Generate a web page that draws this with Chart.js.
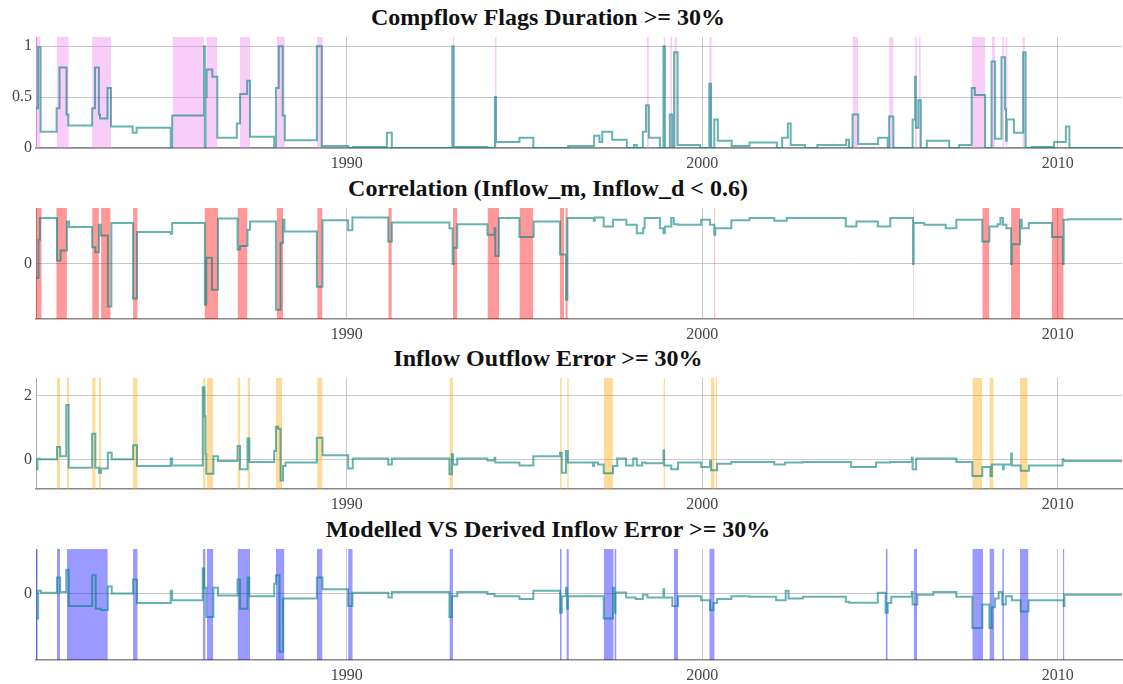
<!DOCTYPE html>
<html>
<head>
<meta charset="utf-8">
<title>Flag durations</title>
<script src="https://cdn.jsdelivr.net/npm/chart.js@4.4.1/dist/chart.umd.min.js"></script>
<style>
    body { margin: 0; background: #fff; width: 1123px; height: 684px; position: relative; overflow: hidden; }
    .panel-title {
        position: absolute; left: 548px; transform: translateX(-50%);
        font: bold 24px "Liberation Serif", "Times New Roman", serif; line-height: 24px;
        color: #111; white-space: nowrap;
    }
    .panel { position: absolute; left: 0; width: 1123px; height: 137px; }
</style>
</head>
<body>
<div class="panel-title" style="top:5px">Compflow Flags Duration &gt;= 30%</div>
<div class="panel" style="top:37px"><canvas id="compflow-chart" width="1123" height="137"></canvas></div>

<div class="panel-title" style="top:176px">Correlation (Inflow_m, Inflow_d &lt; 0.6)</div>
<div class="panel" style="top:208px"><canvas id="correlation-chart" width="1123" height="137"></canvas></div>

<div class="panel-title" style="top:346px">Inflow Outflow Error &gt;= 30%</div>
<div class="panel" style="top:378px"><canvas id="inout-chart" width="1123" height="137"></canvas></div>

<div class="panel-title" style="top:517px">Modelled VS Derived Inflow Error &gt;= 30%</div>
<div class="panel" style="top:549px"><canvas id="modelled-chart" width="1123" height="137"></canvas></div>

<script>
// shared time axis (decimal years)
const xRange = [1981.26, 2011.81];
const xTicks = [1990, 2000, 2010];

// Compflow flag duration
const compflowDates = [1981.26, 1981.32, 1981.39, 1981.84, 1981.92, 1982.12, 1982.17, 1982.84, 1982.92, 1983.03,
    1983.06, 1983.27, 1983.37, 1983.98, 1984.09, 1985.05, 1985.09, 1985.99, 1986.01, 1986.03,
    1986.06, 1986.22, 1986.36, 1986.91, 1987.00, 1987.20, 1987.28, 1987.96, 1988.01, 1988.09,
    1988.20, 1988.26, 1989.16, 1989.30, 1990.05, 1990.17, 1991.13, 1991.27, 1992.97, 1993.01,
    1993.96, 1994.17, 1994.20, 1994.86, 1995.25, 1996.23, 1996.96, 1997.11, 1997.19, 1997.47,
    1997.88, 1998.08, 1998.16, 1998.33, 1998.42, 1998.50, 1998.81, 1998.91, 1998.95, 1999.09,
    1999.16, 1999.21, 1999.31, 1999.94, 2000.20, 2000.25, 2000.34, 2000.44, 2000.83, 2001.33,
    2002.10, 2002.25, 2002.41, 2002.49, 2002.89, 2003.24, 2004.05, 2004.13, 2004.23, 2004.39,
    2004.95, 2005.22, 2005.26, 2005.38, 2005.92, 2005.99, 2006.01, 2006.08, 2006.15, 2006.32,
    2006.95, 2007.23, 2007.58, 2007.67, 2007.96, 2008.14, 2008.24, 2008.42, 2008.52, 2008.55,
    2008.57, 2008.77, 2009.03, 2009.10, 2009.27, 2009.90, 2010.23, 2010.33, 2011.81];
const compflowValues = [0.39, 0.99, 0.16, 0.39, 0.79, 0.33, 0.22, 0.39, 0.79, 0.33,
    0.29, 0.59, 0.21, 0.15, 0.20, 0, 0.32, 1.0, 0, 0.5,
    0.77, 0.70, 0.10, 0.24, 0.53, 0.66, 0.11, 0, 0.59, 1.0,
    0.32, 0.075, 1.0, 0.02, 0, 0.01, 0.15, 0, 1.0, 0.01,
    0, 0.5, 0.06, 0.10, 0, 0.02, 0.12, 0.06, 0.16, 0.08,
    0, 0.03, 0, 0.16, 0.42, 0.10, 0, 1.0, 0, 0.33,
    0, 0.94, 0.03, 0, 0.63, 0, 0.28, 0.07, 0.02, 0.055,
    0, 0.10, 0.24, 0.03, 0, 0.03, 0.08, 0, 0.33, 0.04,
    0.10, 0, 0.31, 0, 0.28, 0.70, 0.20, 0.47, 0, 0.07,
    0, 0.03, 0.59, 0.52, 0, 0.85, 0.09, 0.89, 0.38, 0.07,
    0.28, 0.15, 0.94, 0, 0.01, 0.06, 0.21, 0, 0];
const compflowFlagStarts = [1981.26, 1981.84, 1982.84, 1985.10, 1986.05, 1987.00, 1988.03, 1989.16, 1992.98, 1994.17,
    1998.44, 1998.91, 1999.10, 1999.22, 2000.20, 2004.23, 2005.26, 2005.99, 2006.10, 2007.58,
    2008.14, 2008.44, 2008.53, 2009.01];
const compflowFlagEnds = [1981.39, 1982.18, 1983.37, 1985.99, 1986.36, 1987.28, 1988.26, 1989.33, 1993.02, 1994.22,
    1998.50, 1998.96, 1999.16, 1999.29, 2000.27, 2004.39, 2005.38, 2006.04, 2006.15, 2007.96,
    2008.24, 2008.50, 2008.59, 2009.08];
const compflowTicks = [0, 0.5, 1];

// Correlation between modelled and derived inflow
const correlationDates = [1981.26, 1981.33, 1981.37, 1981.85, 1981.95, 1982.13, 1982.19, 1982.84, 1982.93, 1983.03,
    1983.08, 1983.28, 1983.38, 1983.99, 1984.10, 1985.05, 1985.09, 1986.01, 1986.05, 1986.21,
    1986.38, 1986.93, 1987.00, 1987.21, 1987.28, 1988.01, 1988.14, 1988.21, 1988.25, 1989.16,
    1989.32, 1990.04, 1990.16, 1991.17, 1991.27, 1992.89, 1992.98, 1993.00, 1993.11, 1993.96,
    1994.16, 1994.18, 1994.28, 1994.86, 1995.26, 1996.00, 1996.17, 1996.21, 1996.95, 1996.98,
    1997.23, 1997.49, 1997.87, 1998.16, 1998.34, 1998.38, 1998.81, 1998.91, 1998.95, 1999.13,
    1999.20, 1999.32, 1999.97, 2000.22, 2000.34, 2000.37, 2000.82, 2001.33, 2002.03, 2002.38,
    2004.04, 2004.34, 2004.94, 2005.29, 2005.93, 2005.95, 2006.25, 2006.85, 2007.15, 2007.88,
    2008.08, 2008.31, 2008.39, 2008.46, 2008.56, 2008.69, 2008.71, 2008.94, 2008.99, 2009.19,
    2009.84, 2010.15, 2010.17, 2010.30, 2011.81];
const correlationValues = [-0.25, 0.43, 0.82, 0.06, 0.24, 0.76, 0.66, 0.30, 0.21, 0.70,
    0.51, -0.76, 0.73, -0.62, 0.57, 0.54, 0.73, -0.73, 0.11, -0.46,
    0.81, 0.26, 0.32, 0.61, 0.76, -0.82, 0.38, 0.79, 0.58, -0.41,
    0.78, 0.60, 0.83, 0.40, 0.74, 0.64, 0.0, 0.29, 0.71, 0.52,
    0.64, 0.14, 0.82, 0.48, 0.76, 0.17, -0.64, 0.82, 0.77, 0.83,
    0.67, 0.79, 0.70, 0.55, 0.64, 0.82, 0.64, 0.55, 0.67, 0.82,
    0.71, 0.70, 0.79, 0.70, 0.52, 0.64, 0.78, 0.82, 0.77, 0.82,
    0.67, 0.76, 0.67, 0.82, 0.0, 0.73, 0.70, 0.64, 0.79, 0.40,
    0.67, 0.71, 0.82, 0.70, 0.64, 0.0, 0.35, 0.79, 0.64, 0.73,
    0.48, 0.0, 0.79, 0.80, 0.80];
const correlationFlagStarts = [1981.26, 1981.83, 1982.84, 1983.09, 1983.99, 1986.00, 1986.93, 1988.03, 1989.17, 1991.17,
    1992.99, 1993.96, 1994.86, 1996.00, 1996.15, 2000.34, 2005.93, 2007.88, 2008.69, 2009.83];
const correlationFlagEnds = [1981.42, 1982.13, 1983.03, 1983.36, 1984.12, 1986.38, 1987.21, 1988.21, 1989.32, 1991.27,
    1993.11, 1994.29, 1995.25, 1996.12, 1996.22, 2000.37, 2005.95, 2008.08, 2008.94, 2010.17];
const correlationTicks = [0];

// Inflow / outflow balance error
const inoutDates = [1981.26, 1981.30, 1981.37, 1981.85, 1981.94, 1982.11, 1982.18, 1982.84, 1982.93, 1983.03,
    1983.09, 1983.28, 1983.39, 1983.99, 1984.10, 1985.05, 1985.09, 1985.95, 1986.00, 1986.03,
    1986.05, 1986.25, 1986.38, 1986.93, 1987.00, 1987.21, 1987.26, 1987.96, 1988.01, 1988.07,
    1988.14, 1988.21, 1988.28, 1989.16, 1989.32, 1990.04, 1990.17, 1991.17, 1991.27, 1992.89,
    1992.96, 1992.99, 1993.11, 1993.96, 1994.16, 1994.18, 1994.86, 1995.25, 1996.00, 1996.05,
    1996.17, 1996.22, 1996.93, 1996.96, 1997.07, 1997.23, 1997.49, 1997.61, 1997.86, 1998.06,
    1998.16, 1998.31, 1998.41, 1998.91, 1998.93, 1999.13, 1999.32, 1999.97, 2000.22, 2000.25,
    2000.42, 2000.82, 2002.03, 2002.33, 2002.83, 2004.19, 2004.89, 2005.29, 2005.90, 2005.92,
    2006.02, 2007.15, 2007.60, 2007.88, 2008.11, 2008.15, 2008.46, 2008.48, 2008.69, 2008.71,
    2008.96, 2009.19, 2010.14, 2010.16, 2011.81];
const inoutValues = [-0.31, 0.02, 0.0, 0.39, 0.10, 1.70, -0.26, 0.80, -0.26, -0.42,
    -0.29, 0.21, 0.0, 0.44, -0.21, 0.03, -0.19, 2.26, 1.35, 0.16,
    -0.45, 0.10, -0.05, 0.42, -0.31, 0.65, -0.08, 0.26, 1.02, 0.96,
    -0.66, -0.21, -0.10, 0.68, 0.13, -0.29, 0.03, -0.16, 0.03, -0.47,
    0.16, -0.16, 0.03, -0.04, 0.05, -0.10, -0.19, 0.10, 0.21, -0.42,
    0.26, -0.10, -0.21, -0.10, -0.16, -0.44, -0.21, 0.03, -0.19, 0.03,
    -0.19, -0.10, -0.12, 0.28, -0.19, -0.31, -0.10, -0.24, -0.05, -0.34,
    -0.14, -0.08, -0.16, -0.10, -0.08, -0.24, -0.10, -0.08, 0.05, -0.31,
    0.03, -0.08, -0.52, -0.24, -0.52, -0.16, -0.31, -0.16, 0.18, -0.19,
    -0.36, -0.19, 0.0, -0.05, -0.05];
const inoutFlagStarts = [1981.85, 1982.13, 1982.84, 1983.03, 1983.99, 1985.95, 1986.07, 1986.93, 1987.21, 1988.01,
    1989.17, 1992.89, 1996.00, 1996.20, 1997.23, 1998.91, 2000.24, 2000.38, 2007.60, 2008.08, 2008.94];
const inoutFlagEnds = [1981.94, 1982.19, 1982.94, 1983.09, 1984.12, 1986.03, 1986.25, 1987.01, 1987.28, 1988.18,
    1989.32, 1992.99, 1996.05, 1996.25, 1997.49, 1998.96, 2000.35, 2000.42, 2007.88, 2008.20, 2009.16];
const inoutTicks = [0, 2];

// Modelled vs derived inflow error
const modelledDates = [1981.26, 1981.32, 1981.40, 1981.85, 1981.94, 1982.11, 1982.18, 1982.84, 1982.94, 1983.09,
    1983.28, 1983.39, 1983.99, 1984.10, 1985.05, 1985.09, 1985.95, 1985.99, 1986.05, 1986.25,
    1986.38, 1986.93, 1987.00, 1987.21, 1987.26, 1987.96, 1988.01, 1988.11, 1988.21, 1989.16,
    1989.32, 1990.04, 1990.16, 1991.17, 1991.27, 1992.89, 1992.96, 1993.11, 1993.96, 1994.16,
    1994.86, 1995.25, 1996.00, 1996.05, 1996.17, 1996.20, 1996.22, 1997.23, 1997.49, 1997.53,
    1997.56, 1997.86, 1998.13, 1998.33, 1998.46, 1998.91, 1998.93, 1999.16, 1999.32, 1999.97,
    2000.22, 2000.32, 2000.42, 2000.82, 2001.33, 2002.08, 2002.35, 2002.43, 2002.83, 2004.04,
    2004.14, 2004.94, 2005.16, 2005.22, 2005.32, 2005.90, 2005.92, 2006.05, 2006.50, 2007.15,
    2007.60, 2007.88, 2008.08, 2008.15, 2008.24, 2008.34, 2008.44, 2008.54, 2008.71, 2008.96,
    2009.18, 2010.17, 2010.19, 2011.81];
const modelledValues = [-0.18, 0.02, 0.005, 0.115, 0.01, 0.17, -0.09, 0.13, -0.11, -0.12,
    0.05, 0.0, 0.10, -0.07, 0.02, -0.05, 0.18, 0.04, -0.17, 0.04,
    -0.015, 0.10, -0.11, 0.115, -0.02, 0.07, 0.13, -0.42, -0.036, 0.115,
    0.03, -0.09, 0.005, -0.03, 0.01, -0.17, -0.02, 0.01, -0.005, -0.02,
    -0.04, 0.02, -0.14, -0.02, 0.04, -0.11, -0.02, -0.18, 0.04, -0.14,
    0.007, -0.03, -0.04, -0.01, -0.03, 0.03, -0.03, -0.09, -0.02, -0.05,
    -0.12, -0.07, -0.04, -0.02, -0.024, -0.05, 0.02, -0.036, -0.024, -0.06,
    -0.067, 0.005, -0.14, -0.07, -0.024, 0.01, -0.08, -0.01, 0.01, -0.024,
    -0.25, -0.08, -0.25, -0.10, -0.036, 0.01, -0.08, -0.02, -0.05, -0.13,
    -0.05, -0.09, -0.01, -0.01];
const modelledFlagStarts = [1981.26, 1981.85, 1982.13, 1983.99, 1985.95, 1986.07, 1986.93, 1988.01, 1989.16, 1990.04,
    1992.89, 1996.00, 1996.18, 1997.23, 1997.53, 1999.20, 2000.20, 2005.16, 2005.95, 2007.60,
    2008.08, 2008.44, 2008.94, 2010.15];
const modelledFlagEnds = [1981.31, 1981.94, 1983.28, 1984.12, 1986.03, 1986.25, 1987.28, 1988.25, 1989.32, 1990.17,
    1992.99, 1996.05, 1996.25, 1997.51, 1997.59, 1999.32, 2000.35, 2005.22, 2006.05, 2007.90,
    2008.22, 2008.49, 2009.18, 2010.19];
const modelledTicks = [0];

const tickFont = { family: '"Liberation Serif", "Times New Roman", serif', size: 16 };

/**
 * Builds one flagged-series panel: a stepped line over shaded flag periods.
 */
function renderPanel(canvasId, dates, values, flagStarts, flagEnds, flagColor, yMin, yMax, yTicks) {
    const linePoints = dates.map((d, i) => ({ x: d, y: values[i] }));

    // each flag period is a flat run at the top of the axis, filled down to the bottom
    const flagPoints = [];
    flagStarts.forEach((start, i) => {
        flagPoints.push({ x: start, y: yMax }, { x: flagEnds[i], y: yMax }, { x: flagEnds[i], y: null });
    });

    new Chart(document.getElementById(canvasId), {
        type: 'line',
        data: {
            datasets: [
                {
                    data: linePoints, stepped: 'before', order: 0,
                    borderColor: 'rgba(0, 128, 128, 0.6)', borderWidth: 2,
                    pointRadius: 0, fill: false
                },
                {
                    data: flagPoints, order: 1, spanGaps: false,
                    borderColor: 'transparent', borderWidth: 0, pointRadius: 0,
                    backgroundColor: flagColor, fill: 'start'
                }
            ]
        },
        options: {
            responsive: false, animation: false, events: [],
            layout: { padding: { left: 0, right: 1, top: 0, bottom: 0 } },
            plugins: { legend: { display: false }, tooltip: { enabled: false } },
            scales: {
                x: {
                    type: 'linear', min: xRange[0], max: xRange[1],
                    afterBuildTicks: s => { s.ticks = xTicks.map(v => ({ value: v })); },
                    afterFit: s => { s.height = 26; s.paddingLeft = 0; s.paddingRight = 0; },
                    grid: { color: '#c8c8c8', drawTicks: false },
                    border: { color: '#888', width: 1.5 },
                    ticks: { padding: 6, color: '#444', font: tickFont, maxRotation: 0, autoSkip: false, callback: v => String(v) }
                },
                y: {
                    type: 'linear', min: yMin, max: yMax,
                    afterBuildTicks: s => { s.ticks = yTicks.map(v => ({ value: v })); },
                    afterFit: s => { s.width = 36; s.paddingTop = 0; s.paddingBottom = 0; },
                    grid: { color: '#c8c8c8', drawTicks: false },
                    border: { color: '#aaa', width: 1 },
                    ticks: { padding: 4, color: '#444', font: tickFont, callback: v => String(v) }
                }
            }
        }
    });
}

renderPanel('compflow-chart', compflowDates, compflowValues, compflowFlagStarts, compflowFlagEnds,
    'rgba(238, 130, 238, 0.4)', 0, 1.09, compflowTicks);
renderPanel('correlation-chart', correlationDates, correlationValues, correlationFlagStarts, correlationFlagEnds,
    'rgba(255, 0, 0, 0.4)', -0.985, 1.0, correlationTicks);
renderPanel('inout-chart', inoutDates, inoutValues, inoutFlagStarts, inoutFlagEnds,
    'rgba(255, 165, 0, 0.4)', -0.93, 2.55, inoutTicks);
renderPanel('modelled-chart', modelledDates, modelledValues, modelledFlagStarts, modelledFlagEnds,
    'rgba(0, 0, 255, 0.4)', -0.48, 0.32, modelledTicks);
</script>
</body>
</html>
